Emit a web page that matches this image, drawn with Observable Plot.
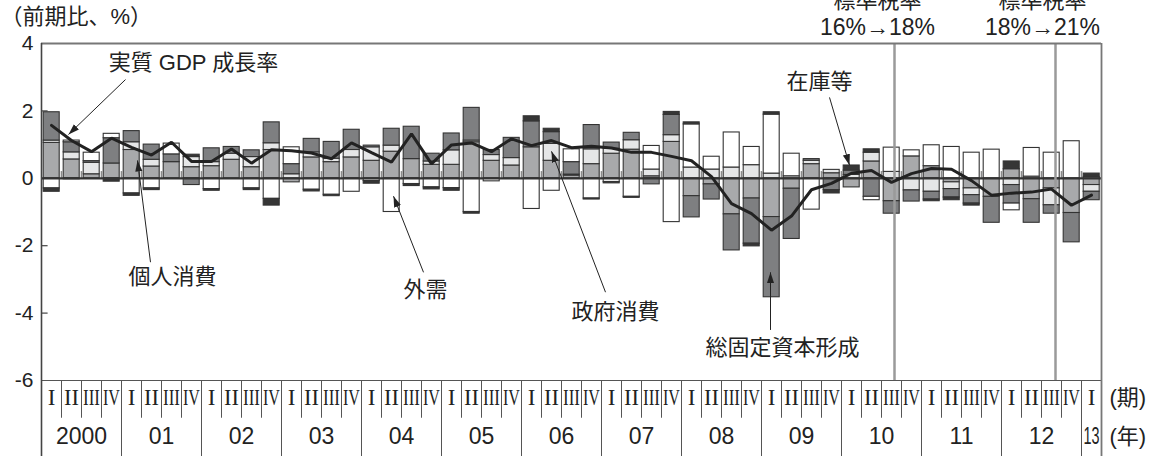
<!DOCTYPE html>
<html>
<head>
<meta charset="utf-8">
<script src="https://cdn.jsdelivr.net/npm/d3@7"></script>
<script src="https://cdn.jsdelivr.net/npm/@observablehq/plot@0.6"></script>
<style>
  html, body { margin: 0; padding: 0; background: #fff; }
  #chart svg { display: block; }
</style>
</head>
<body>
<div id="chart"></div>
<script>
// ---- data (2000 Q1 … 2013 Q1), contributions to q/q real GDP growth, % ----
const quarterLabels = ["I", "II", "III", "IV"];
const yearLabels = ["2000","01","02","03","04","05","06","07","08","09","10","11","12","13"];
const components = ["個人消費", "政府消費", "総固定資本形成", "外需", "在庫等"];

const privateConsumption = [
  1.05, 0.56, 0.12, 0.44,   0.84, 0.35, 0.48, 0.33,   0.36, 0.55, 0.33, 0.84,
  -0.12, 0.62, 0.48, 0.62,  0.52, 0.79, 0.57, 0.40,   0.40, 1.07, 0.52, 0.38,
  0.92, 0.52, 0.08, 0.42,   0.73, 0.85, 0.06, 1.08,   -0.53, -0.18, -1.07, -0.60,
  -1.15, -0.31, 0.42, 0.15, -0.27, 0.50, -0.68, 0.65, 0.36, -0.12, -0.30, -0.55,
  0.27, -0.62, -0.30, -1.03, -0.20
];
const governmentConsumption = [
  0.07, 0.21, 0.34, 0.00,   0.23, 0.20, 0.00, 0.30,   0.12, 0.18, 0.30, 0.20,
  0.12, 0.15, 0.10, 0.22,   0.40, 0.18, 0.00, 0.10,   0.43, 0.05, 0.17, 0.22,
  0.00, 0.50, 0.03, 0.44,   0.15, 0.28, 0.20, 0.20,   0.32, 0.26, 0.32, 0.39,
  0.14, 0.06, 0.10, 0.10,   0.10, 0.26, 0.19, -0.36,  -0.40, -0.20, -0.20, 0.00,
  -0.20, 0.05, -0.50, 0.00, -0.20
];
const fixedInvestment = [
  0.84, 0.30, 0.05, 0.75,   0.33, 0.45, 0.23, -0.20,  0.41, 0.20, 0.20, 0.62,
  0.30, 0.40, 0.50, 0.60,   0.05, 0.50, 0.96, 0.23,   0.50, 0.97, 0.15, 0.60,
  0.77, 0.35, 0.37, 0.72,   0.18, 0.22, -0.18, 0.60,  -0.63, -0.45, -1.07, -1.34,
  -2.38, -1.49, 0.05, -0.35, 0.13, -0.55, -0.37, -0.33, -0.23, -0.25, -0.25, -0.77,
  -0.55, -0.70, -0.25, -0.87, -0.25
];
const netExports = [
  -0.30, 0.05, 0.25, 0.13,  -0.45, -0.30, 0.32, 0.00, -0.32, 0.00, -0.30, -0.61,
  0.50, -0.34, -0.49, -0.40, -0.08, -1.00, -0.17, -0.27, -0.29, -1.00, -0.09, 0.00,
  -0.91, -0.37, 0.38, -0.60, -0.11, -0.55, 0.70, -1.30, 1.28, 0.38, 1.04, 0.54,
  1.75, 0.67, -0.93, 0.00,  0.00, -0.10, 0.72, 0.18,  0.62, 0.93, 0.76, 0.85,
  -0.20, 0.85, 0.76, 1.10, 0.04
];
const inventories = [
  -0.10, -0.03, 0.00, -0.10, -0.07, -0.05, 0.00, 0.07, -0.05, 0.00, -0.05, -0.20,
  0.00, -0.05, -0.04, 0.00,  -0.08, 0.00, -0.06, -0.06, -0.08, -0.05, 0.00, 0.00,
  0.15, 0.10, 0.00, -0.03,   -0.04, -0.03, 0.00, 0.09,  0.06, 0.00, 0.00, -0.08,
  0.07, 0.00, 0.00, -0.10,   0.15, 0.10, 0.00, 0.00,   -0.05, -0.08, -0.06, 0.00,
  0.23, 0.00, 0.00, 0.00, 0.10
];
const realGdpGrowth = [
  1.57, 1.12, 0.79, 1.19,   0.92, 0.69, 1.07, 0.50,   0.50, 0.87, 0.45, 0.85,
  0.82, 0.75, 0.58, 1.05,   0.76, 0.48, 1.32, 0.43,   0.99, 1.05, 0.79, 1.17,
  0.97, 1.12, 0.91, 0.95,   0.90, 0.77, 0.77, 0.65,   0.52, 0.05, -0.75, -1.05,
  -1.54, -1.12, -0.34, -0.15, 0.15, 0.23, -0.12, 0.14, 0.29, 0.27, -0.07, -0.50,
  -0.44, -0.41, -0.32, -0.80, -0.50
];
const yTicks = [4, 2, 0, -2, -4, -6];

// VAT changes (position in quarter units) and their labels
const taxChanges = [
  {at: 42.65, labelAt: 41.8, title: "標準税率", rate: "16%→18%"},
  {at: 50.7, labelAt: 50.05, title: "標準税率", rate: "18%→21%"}
];

// callout labels with arrows (data coordinates)
const annotations = [
  {label: "実質 GDP 成長率", tx: 7.6, ty: 3.41, x1: 4.2, y1: 2.93, x2: 1.35, y2: 1.30},
  {label: "個人消費", tx: 6.55, ty: -2.93, x1: 5.45, y1: -2.49, x2: 4.8, y2: 0.53},
  {label: "外需", tx: 19.2, ty: -3.32, x1: 19.1, y1: -2.79, x2: 17.6, y2: -0.53},
  {label: "政府消費", tx: 28.7, ty: -3.97, x1: 28.2, y1: -3.38, x2: 25.5, y2: 0.80},
  {label: "総固定資本形成", tx: 37.05, ty: -5.04, x1: 36.45, y1: -4.5, x2: 36.45, y2: -2.79},
  {label: "在庫等", tx: 38.9, ty: 2.87, x1: 39.4, y1: 2.4, x2: 40.4, y2: 0.39}
];

// ---- derived tables ----
const series = [privateConsumption, governmentConsumption, fixedInvestment, netExports, inventories];
const nQ = realGdpGrowth.length;
const rows = [];
for (let i = 0; i < nQ; i++) {
  components.forEach((c, k) => {
    const v = series[k][i];
    if (v !== 0) rows.push({i, comp: c, value: v});
  });
}
const gdpRows = realGdpGrowth.map((v, i) => ({i, v}));
const quarterRows = d3.range(nQ).map(i => ({i, label: quarterLabels[i % 4]}));
const yearRows = yearLabels.map((label, k) => ({
  label, x: (4 * k + Math.min(4 * k + 4, nQ)) / 2
}));

const JP = "'Liberation Sans','Noto Sans CJK JP',sans-serif";
const SERIF = "'Liberation Serif',serif";
const yTableQ = -6.52, yTableY = -7.67, yRowSplit = -7.12, yBottom = -8.4;

function headMarker(color, context) {
  const doc = (context && context.document) || document;
  const ns = "http://www.w3.org/2000/svg";
  const m = doc.createElementNS(ns, "marker");
  m.setAttribute("viewBox", "-11 -4 11 8");
  m.setAttribute("markerWidth", "11");
  m.setAttribute("markerHeight", "8");
  m.setAttribute("markerUnits", "userSpaceOnUse");
  m.setAttribute("orient", "auto");
  m.setAttribute("fill", color);
  m.setAttribute("stroke", "none");
  const p = doc.createElementNS(ns, "path");
  p.setAttribute("d", "M-11,-3.6L0,0L-11,3.6Z");
  m.appendChild(p);
  return m;
}

const chart = Plot.plot({
  width: 1149,
  height: 456,
  marginLeft: 41,
  marginRight: 48,
  marginTop: 43,
  marginBottom: 76,
  style: {fontFamily: JP, fontSize: "20px", background: "#fff", color: "#222"},
  x: {type: "linear", domain: [0, nQ], axis: null},
  y: {domain: [-6, 4], axis: null},
  color: {domain: components, range: ["#a8a9ab", "#e5e6e7", "#7e7f81", "#ffffff", "#363636"]},
  marks: [
    // stacked contributions
    Plot.rectY(rows, {
      x1: d => d.i, x2: d => d.i + 1, y: "value", fill: "comp",
      stroke: "#333", strokeWidth: 1.1, insetLeft: 2.2, insetRight: 1.8
    }),
    // zero line and quarter ticks
    Plot.ruleX(d3.range(1, nQ), {x: d => d, y1: 0, y2: 0.2, stroke: "#8a8a8a", strokeWidth: 1.6}),
    Plot.ruleY([0], {x1: 0, x2: nQ, stroke: "#333", strokeWidth: 2.2}),
    // VAT lines
    Plot.ruleX(taxChanges, {x: "at", y1: -6, y2: 4, stroke: "#9a9a9a", strokeWidth: 2.5}),
    // frame
    Plot.ruleY([4], {x1: 0, x2: nQ, stroke: "#777", strokeWidth: 1.8}),
    Plot.ruleY([-6], {x1: 0, x2: nQ, stroke: "#555", strokeWidth: 1.2}),
    Plot.ruleX([nQ], {y1: yBottom, y2: 4, stroke: "#777", strokeWidth: 1.8}),
    Plot.ruleX([0], {y1: yBottom, y2: 4, stroke: "#444", strokeWidth: 1.6}),
    // y ticks (inward) and labels
    Plot.ruleY(yTicks.filter(t => t !== 4 && t !== -6 && t !== 0), {x1: 0, x2: 0.33, stroke: "#444", strokeWidth: 1.2}),
    Plot.text(yTicks, {x: 0, y: d => d, text: d => String(d), dx: -8, textAnchor: "end", fontSize: 21, fill: "#222"}),
    // GDP growth line
    Plot.line(gdpRows, {x: d => d.i + 0.5, y: "v", stroke: "#222", strokeWidth: 3, strokeLinejoin: "miter"}),
    // callouts
    Plot.link(annotations, {x1: "x1", y1: "y1", x2: "x2", y2: "y2", stroke: "#222", strokeWidth: 1, markerEnd: headMarker}),
    Plot.text(annotations, {x: "tx", y: "ty", text: "label", fontSize: 22, fill: "#222"}),
    // VAT labels
    Plot.text(taxChanges, {x: "labelAt", y: 5.25, text: "title", fontSize: 22, fill: "#222"}),
    Plot.text(taxChanges, {x: "labelAt", y: 4.47, text: "rate", fontSize: 23, fill: "#222"}),
    // unit label
    Plot.text(["（前期比、%）"], {x: -2.05, y: 4.8, text: d => d, textAnchor: "start", fontSize: 22, fill: "#222"}),
    // bottom table: separators
    Plot.ruleX(d3.range(1, nQ).filter(k => k % 4 !== 0), {x: d => d, y1: -6, y2: yRowSplit, stroke: "#555", strokeWidth: 1}),
    Plot.ruleX(d3.range(4, nQ, 4), {x: d => d, y1: -6, y2: yBottom, stroke: "#555", strokeWidth: 1}),
    // bottom table: labels
    Plot.text(quarterRows, {x: d => d.i + 0.5, y: yTableQ, text: "label", fontFamily: SERIF, fontSize: 23, fill: "#222"}),
    Plot.text(yearRows, {x: "x", y: yTableY, text: "label", fontSize: 23, fill: "#222"}),
    Plot.text(["(期)"], {x: nQ, y: yTableQ, text: d => d, dx: 8, textAnchor: "start", fontSize: 22, fill: "#222"}),
    Plot.text(["(年)"], {x: nQ, y: yTableY, text: d => d, dx: 8, textAnchor: "start", fontSize: 22, fill: "#222"})
  ]
});

// condense the labels of the narrow 20px table cells so that they fit
const condensed = {"II": 15, "III": 17, "IV": 17, "13": 16};
d3.select(chart).selectAll("text").each(function () {
  const t = this.textContent;
  if (Object.prototype.hasOwnProperty.call(condensed, t)) {
    d3.select(this).attr("textLength", condensed[t]).attr("lengthAdjust", "spacingAndGlyphs");
  }
});

document.getElementById("chart").appendChild(chart);
</script>
</body>
</html>
